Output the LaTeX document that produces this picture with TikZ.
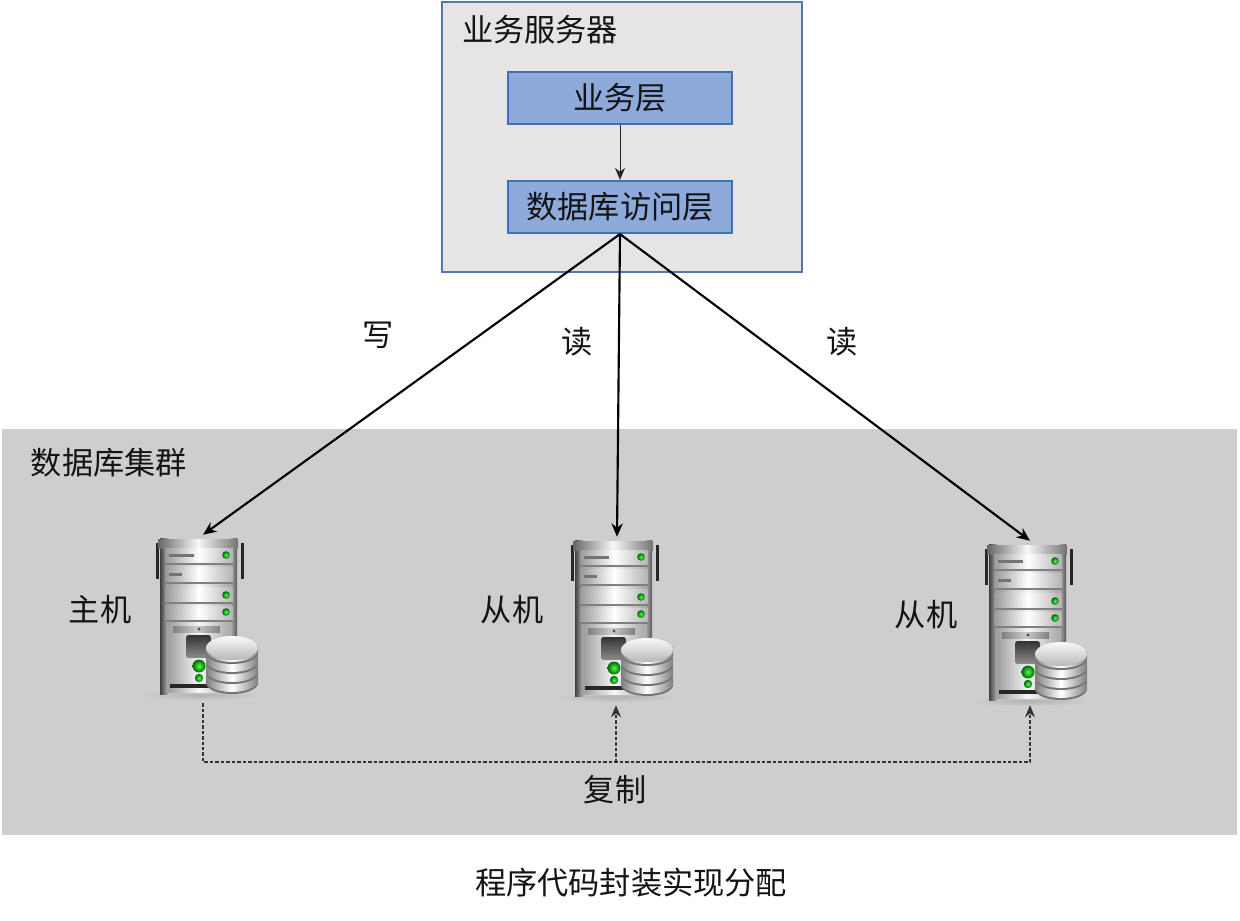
\documentclass[tikz,border=0pt]{standalone}
\usepackage{fontspec}
\setmainfont{Noto Sans CJK SC}
\usetikzlibrary{arrows.meta}
\definecolor{clusterbg}{HTML}{CFCDCE}
\definecolor{serverbg}{HTML}{E6E4E4}
\definecolor{serverln}{HTML}{4F7AB0}
\definecolor{layerbg}{HTML}{8EAADB}
\definecolor{layerln}{HTML}{3F6FB5}
\definecolor{txt}{HTML}{141414}
\tikzset{
  x=0.75pt,y=-0.75pt,
  lbl/.style={inner sep=0pt,text=txt,font=\fontsize{23.4}{26}\selectfont},
  serverframe/.style={draw=serverln,line width=1.8pt,fill=serverbg},
  layerbox/.style={draw=layerln,line width=1.6pt,fill=layerbg,minimum width=168pt,minimum height=39pt,inner sep=0pt,text=txt,font=\fontsize{23.4}{26}\selectfont},
  hostslot/.style={inner sep=0pt,minimum width=66pt},
  dbarrow/.style={line width=1.6pt,-{Stealth[length=10pt,width=8.5pt]}},
  thinarrow/.style={line width=0.7pt,draw=black!85,-{Stealth[length=9pt,width=7.5pt]}},
  dashline/.style={line width=0.8pt,draw=black!80,dash pattern=on 2.6pt off 1.5pt},
  drawer/.style={left color=black!40,right color=black!30,middle color=white},
  led/.style={inner color=green!70!white,outer color=green!40!black},
  serverpic/.pic={
    % floor shadow
    \shade[inner color=white!70!black,outer color=clusterbg] (42,157) ellipse (60 and 5);
    % side handles
    \fill[black!85] (-2,5) rectangle (1,41);
    \fill[black!85] (82.5,5) rectangle (85.5,41);
    % chassis
    \shade[left color=black!45,right color=black!40,middle color=black!3] (4,2) rectangle (78,154);
    % posts
    \shade[left color=black!75,right color=black!30] (2,0) rectangle (10,156);
    \shade[left color=black!30,right color=black!65] (72,0) rectangle (79,150);
    % top cap
    \shade[left color=black!60,right color=black!55,middle color=black!3] (0,1) rectangle (80,10);
    % drawers
    \foreach \yt/\yb in {10/24,29/43,49/63,68/81}{
      \fill[black!50] (7,\yb) rectangle (75,\yb+3);
      \shade[drawer] (7,\yt) rectangle (75,\yb);
    }
    % drawer labels
    \fill[black!55] (11,15.5) rectangle (36,18.5);
    \fill[black!55] (11,34.5) rectangle (24,37.5);
    % drawer LEDs
    \foreach \yy in {17,57,74}{ \shade[led] (68,\yy) circle (3.8); }
    % lower panel strip
    \shade[left color=black!50,right color=black!50,middle color=black!20] (15,88) rectangle (62,94);
    \fill[black!70] (41,91) circle (1.6);
    % screen
    \shade[top color=black!80,bottom color=black!45,rounded corners=2pt] (28,97) rectangle (53,120);
    % green lights
    \shade[led] (41,128) circle (6.5);
    \shade[led] (41,140) circle (4.2);
    % bottom slot
    \fill[black!85] (12,146) rectangle (52,150);
    % database stack, bottom disc first
    \foreach \yy in {145,135,125,115}{
      \fill[black!55] (48,\yy) arc[start angle=180,end angle=0,x radius=26,y radius=11] -- (100,\yy-1) -- (48,\yy-1) -- cycle;
      \shade[left color=black!50,right color=black!50,middle color=white] (48,\yy-8) -- (48,\yy-2) arc[start angle=180,end angle=0,x radius=26,y radius=11] -- (100,\yy-8) -- cycle;
    }
    \shade[top color=black!2,bottom color=black!28] (74,110) ellipse (26 and 12);
  }
}
\begin{document}
\begin{tikzpicture}
\useasboundingbox (0,0) rectangle (1240,921);
\fill[white] (0,0) rectangle (1240,921);
% cluster
\fill[clusterbg] (2,429) rectangle (1237,835);
% application server
\draw[serverframe] (442,2) rectangle (802,272);
\node[lbl] (srvtitle) at (540,30) {业务服务器};
\node[layerbox] (biz) at (620,98) {业务层};
\node[layerbox] (dao) at (620,207) {数据库访问层};
\draw[thinarrow] (biz.south) -- (dao.north);
% host icons
\pic at (158,538) {serverpic};
\pic at (573,540) {serverpic};
\pic at (987,544) {serverpic};
\node[hostslot,minimum height=126pt] (master) at (203,619) {};
\node[hostslot,minimum height=126pt] (slavea) at (617,621) {};
\node[hostslot,minimum height=123pt] (slaveb) at (1030,623) {};
% read and write connectors
\draw[dbarrow] (dao.south) -- (master.north);
\draw[dbarrow] (dao.south) -- (slavea.north);
\draw[dbarrow] (dao.south) -- (slaveb.north);
% replication
\coordinate (jct) at (616,762);
\draw[dashline,-{Stealth[length=9pt,width=7.5pt]}] (master.south) |- (jct) -| (slaveb.south);
\draw[dashline,-{Stealth[length=9pt,width=7.5pt]}] (jct) -- (jct |- slavea.south);
% labels
\node[lbl] (lw) at (378,335) {写};
\node[lbl] (lr1) at (577,342) {读};
\node[lbl] (lr2) at (842,342) {读};
\node[lbl] (clu) at (109,463) {数据库集群};
\node[lbl] (lm) at (100,610) {主机};
\node[lbl] (ls1) at (512,610) {从机};
\node[lbl] (ls2) at (926,615) {从机};
\node[lbl] (lc) at (615,790) {复制};
\node[lbl] (cap) at (631,883) {程序代码封装实现分配};
\end{tikzpicture}
\end{document}
